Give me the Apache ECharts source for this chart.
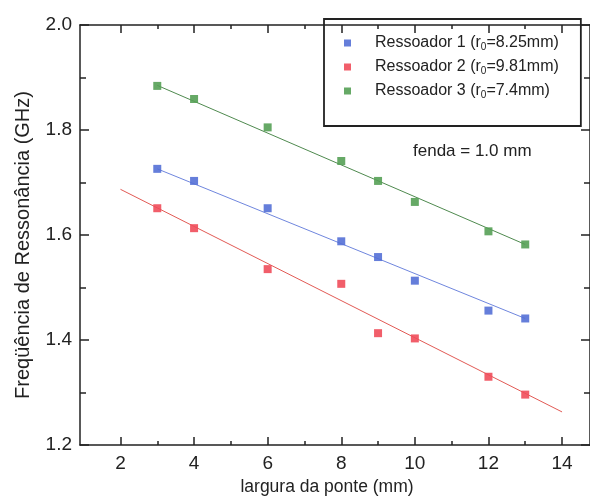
<!DOCTYPE html>
<html><head><meta charset="utf-8">
<script src="https://cdn.jsdelivr.net/npm/echarts@6/dist/echarts.min.js"></script>
<style>html,body{margin:0;padding:0;background:#fff}#c{width:590px;height:501px}</style>
</head><body><div id="c"></div>
<script>
// ---- data ----
const widths = [3, 4, 6, 8, 9, 10, 12, 13];
const res1 = [1.726, 1.703, 1.651, 1.588, 1.558, 1.513, 1.456, 1.441];
const res2 = [1.651, 1.613, 1.535, 1.507, 1.413, 1.403, 1.330, 1.296];
const res3 = [1.884, 1.859, 1.805, 1.741, 1.703, 1.663, 1.607, 1.582];
// fit lines (endpoints)
const fit1X = [3, 13], fit1Y = [1.726, 1.441];
const fit2X = [2, 14], fit2Y = [1.687, 1.263];
const fit3X = [3, 13], fit3Y = [1.885, 1.582];
const seriesNames = ['Ressoador 1', 'Ressoador 2', 'Ressoador 3'];
const radii = ['8.25', '9.81', '7.4'];
const xTicks = [2, 4, 6, 8, 10, 12, 14];
const xMinorTicks = [3, 5, 7, 9, 11, 13];
const yTicks = [1.2, 1.4, 1.6, 1.8, 2.0];
const yMinorTicks = [1.3, 1.5, 1.7, 1.9];
const note = 'fenda = 1.0 mm';
const xTitle = 'largura da ponte (mm)';
const yTitle = 'Freqüência de Ressonância (GHz)';

const colors = ['#5470d6', '#f04c5a', '#55a055'];
const lineColors = ['#6f86de', '#e25a55', '#4f8a4f'];
const FONT = 'Liberation Sans, Arial, sans-serif';
const XMIN = 0.9, XMAX = 14.76, YMIN = 1.2, YMAX = 2.0;

function zip(xs, ys) { return xs.map((x, i) => [x, ys[i]]); }

function xAx(pos, vals, len, line, labels) {
  return {
    type: 'value', position: pos, min: XMIN, max: XMAX,
    axisLine: { show: line, onZero: false, lineStyle: { color: '#222', width: 1.5 } },
    axisTick: { show: true, inside: true, length: len, customValues: vals, lineStyle: { color: '#222', width: 1.5 } },
    axisLabel: labels ? { show: true, customValues: vals, margin: 9, fontSize: 19, color: '#222', fontFamily: FONT } : { show: false },
    splitLine: { show: false }
  };
}
function yAx(pos, vals, len, line, labels) {
  return {
    type: 'value', position: pos, min: YMIN, max: YMAX,
    axisLine: { show: line, onZero: false, lineStyle: { color: '#222', width: 1.5 } },
    axisTick: { show: true, inside: true, length: len, customValues: vals, lineStyle: { color: '#222', width: 1.5 } },
    axisLabel: labels ? { show: true, customValues: vals, margin: 8, fontSize: 19, color: '#222', fontFamily: FONT, formatter: v => v.toFixed(1) } : { show: false },
    splitLine: { show: false }
  };
}

const xAxes = [
  Object.assign(xAx('bottom', xTicks, 8, true, true), {
    name: xTitle, nameLocation: 'middle', nameGap: 33,
    nameTextStyle: { fontSize: 17.5, color: '#222', fontFamily: FONT, padding: [0, 16, 0, 0] }
  }),
  xAx('bottom', xMinorTicks, 4, false, false),
  xAx('top', xTicks, 8, true, false),
  xAx('top', xMinorTicks, 4, false, false)
];
const yAxes = [
  Object.assign(yAx('left', yTicks, 9, true, true), {
    name: yTitle, nameLocation: 'middle', nameGap: 47, nameRotate: 90,
    nameTextStyle: { fontSize: 20, color: '#222', fontFamily: FONT, padding: [0, 20, 0, 0] }
  }),
  yAx('left', yMinorTicks, 6, false, false),
  yAx('right', yTicks, 9, true, false),
  yAx('right', yMinorTicks, 6, false, false)
];

const dataSets = [res1, res2, res3];
const fits = [[fit1X, fit1Y], [fit2X, fit2Y], [fit3X, fit3Y]];
const series = [];
fits.forEach((f, i) => {
  series.push({
    type: 'line', name: 'fit' + i, data: zip(f[0], f[1]), symbol: 'none',
    lineStyle: { color: lineColors[i], width: 1 }, silent: true, z: 2
  });
});
dataSets.forEach((d, i) => {
  series.push({
    type: 'scatter', name: seriesNames[i], data: zip(widths, d),
    symbol: 'rect', symbolSize: 8, itemStyle: { color: colors[i], opacity: 0.9 }, z: 3
  });
});

const chart = echarts.init(document.getElementById('c'), null, { renderer: 'canvas' });
chart.setOption({
  animation: false,
  backgroundColor: '#fff',
  grid: { left: 80, top: 25, right: -1, bottom: 54, containLabel: false },
  xAxis: xAxes,
  yAxis: yAxes,
  legend: {
    data: seriesNames, orient: 'vertical', left: 324, top: 19,
    padding: [16, 22, 26, 20], itemGap: 7,
    borderColor: '#222', borderWidth: 1.8,
    icon: 'rect', itemWidth: 7, itemHeight: 7,
    formatter: function (name) {
      const i = seriesNames.indexOf(name);
      return '{g|}{a|' + name + ' (r}{s|0}{a|=' + radii[i] + 'mm)}';
    },
    textStyle: {
      rich: {
        g: { width: 19 },
        a: { fontSize: 16, color: '#222', fontFamily: FONT, lineHeight: 18 },
        s: { fontSize: 10, color: '#222', fontFamily: FONT, lineHeight: 10, verticalAlign: 'bottom' }
      }
    }
  },
  graphic: [{
    type: 'text', left: 413, top: 143,
    style: { text: note, fontSize: 17, fill: '#222', fontFamily: FONT }
  }],
  series: series
});
</script></body></html>
